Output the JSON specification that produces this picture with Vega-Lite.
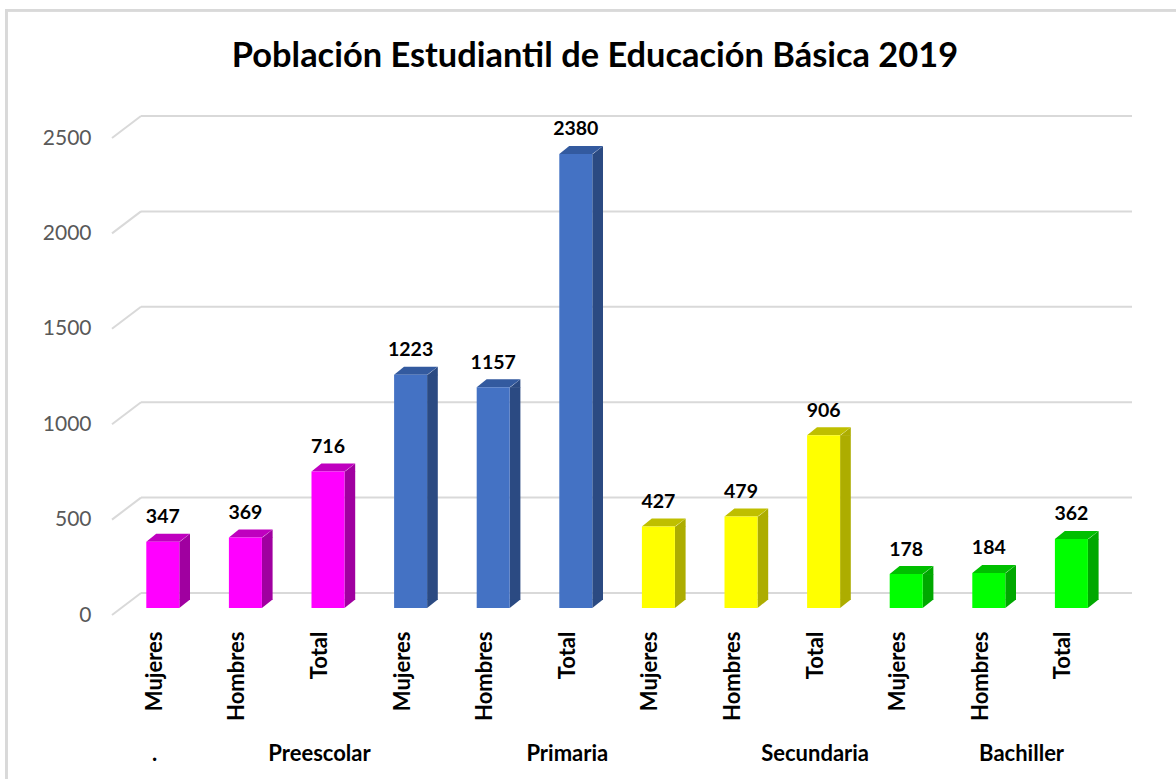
{
"$schema":"https://vega.github.io/schema/vega-lite/v6.json",
"width":1020,"height":477,
"autosize":"none",
"padding":{"left":112,"top":138,"right":44,"bottom":164},
"background":"white",
"config":{"view":{"stroke":null},"font":"Lato"},
"title":{"text":"Población Estudiantil de Educación Básica 2019","font":"Lato","fontSize":34.4,"fontWeight":"bold","color":"#000000","anchor":"middle","frame":"group","dx":-27,"offset":-92,"baseline":"alphabetic"},
"datasets":{
"barras":[
{"id":"Preescolar|Mujeres","nivel":"Preescolar","valor":347},
{"id":"Preescolar|Hombres","nivel":"Preescolar","valor":369},
{"id":"Preescolar|Total","nivel":"Preescolar","valor":716},
{"id":"Primaria|Mujeres","nivel":"Primaria","valor":1223},
{"id":"Primaria|Hombres","nivel":"Primaria","valor":1157},
{"id":"Primaria|Total","nivel":"Primaria","valor":2380},
{"id":"Secundaria|Mujeres","nivel":"Secundaria","valor":427},
{"id":"Secundaria|Hombres","nivel":"Secundaria","valor":479},
{"id":"Secundaria|Total","nivel":"Secundaria","valor":906},
{"id":"Bachiller|Mujeres","nivel":"Bachiller","valor":178},
{"id":"Bachiller|Hombres","nivel":"Bachiller","valor":184},
{"id":"Bachiller|Total","nivel":"Bachiller","valor":362}
],
"rejilla":[{"v":0},{"v":500},{"v":1000},{"v":1500},{"v":2000},{"v":2500}],
"grupos":[
{"id":"Preescolar|Total","grupo":"Preescolar"},
{"id":"Primaria|Total","grupo":"Primaria"},
{"id":"Secundaria|Total","grupo":"Secundaria"}
]
},
"data":{"name":"barras"},
"resolve":{"scale":{"color":"independent"}},
"layer":[
{"mark":{"type":"rule","color":"#d9d9d9","strokeWidth":2},"encoding":{"x":{"value":-105.7},"y":{"value":-127.7},"y2":{"value":641}}},
{"mark":{"type":"rule","color":"#d9d9d9","strokeWidth":2},"encoding":{"x":{"value":-106.7},"x2":{"value":1064},"y":{"value":-127.7}}},
{"data":{"name":"rejilla"},"mark":{"type":"rule","color":"#d9d9d9","strokeWidth":2,"yOffset":-22},
 "encoding":{"y":{"field":"v","type":"quantitative","scale":{"domain":[0,2500],"nice":false},
   "axis":{"title":null,"domain":false,"ticks":false,"grid":false,"values":[0,500,1000,1500,2000,2500],"format":"d","labelFont":"Lato","labelFontSize":21,"labelColor":"#595959","labelPadding":21,"labelOverlap":false}},
   "x":{"value":29},"x2":{"value":1020}}},
{"data":{"name":"rejilla"},"mark":{"type":"rule","color":"#d9d9d9","strokeWidth":2,"y2Offset":-22},
 "encoding":{"y":{"field":"v","type":"quantitative"},"y2":{"field":"v"},"x":{"value":0},"x2":{"value":29}}},
{"mark":{"type":"bar","width":10.7,"xOffset":21.85,"yOffset":-7,"y2Offset":-15},
 "encoding":{
  "x":{"field":"id","type":"nominal","sort":null,"scale":{"range":[9.5,1000.7],"paddingInner":0,"paddingOuter":0},
   "axis":{"title":null,"domain":false,"ticks":false,"labelAngle":270,"labelFont":"Lato","labelFontSize":22,"labelFontWeight":"bold","labelColor":"#000000","labelPadding":16,"labelOffset":-8,"labelExpr":"split(datum.label,'|')[1]"}},
  "y":{"field":"valor","type":"quantitative"},"y2":{"datum":0},
  "color":{"field":"nivel","type":"nominal","legend":null,"scale":{"domain":["Preescolar","Primaria","Secundaria","Bachiller"],"range":["#a000a0","#2b4a82","#adad00","#00a800"]}}}},
{"mark":{"type":"point","filled":true,"opacity":1,"size":4,"shape":"M16.5,0.5L27.2,-8L27.2,0.5Z","yOffset":-7},
 "encoding":{"x":{"field":"id","type":"nominal","sort":null},"y":{"field":"valor","type":"quantitative"},
  "color":{"field":"nivel","type":"nominal","legend":null,"scale":{"domain":["Preescolar","Primaria","Secundaria","Bachiller"],"range":["#a000a0","#2b4a82","#adad00","#00a800"]}}}},
{"mark":{"type":"point","filled":true,"opacity":1,"size":4,"shape":"M16.5,0L27.2,-8.5L16.5,-8.5Z","yOffset":-7},
 "encoding":{"x":{"field":"id","type":"nominal","sort":null},"y":{"datum":0},
  "color":{"field":"nivel","type":"nominal","legend":null,"scale":{"domain":["Preescolar","Primaria","Secundaria","Bachiller"],"range":["#a000a0","#2b4a82","#adad00","#00a800"]}}}},
{"mark":{"type":"point","filled":true,"opacity":1,"size":4,"shape":"M-16.5,0L-6.6,-8L27.2,-8L16.5,0Z","yOffset":-7},
 "encoding":{"x":{"field":"id","type":"nominal","sort":null},"y":{"field":"valor","type":"quantitative"},
  "color":{"field":"nivel","type":"nominal","legend":null,"scale":{"domain":["Preescolar","Primaria","Secundaria","Bachiller"],"range":["#bf00bf","#335a9f","#bfbf00","#00bf00"]}}}},
{"mark":{"type":"bar","width":33,"yOffset":-7,"y2Offset":-7},
 "encoding":{"x":{"field":"id","type":"nominal","sort":null},"y":{"field":"valor","type":"quantitative"},"y2":{"datum":0},
  "color":{"field":"nivel","type":"nominal","legend":null,"scale":{"domain":["Preescolar","Primaria","Secundaria","Bachiller"],"range":["#ff00ff","#4472c4","#ffff00","#00ff00"]}}}},
{"mark":{"type":"text","font":"Lato","fontSize":19.5,"fontWeight":"bold","color":"#000000","baseline":"middle","yOffset":-31.5},
 "encoding":{"x":{"field":"id","type":"nominal","sort":null},"y":{"field":"valor","type":"quantitative"},"text":{"field":"valor","type":"quantitative"}}},
{"data":{"name":"grupos"},"mark":{"type":"text","font":"Lato","fontSize":22,"fontWeight":"bold","color":"#000000","baseline":"middle","yOffset":139,"dx":-8.5},
 "encoding":{"x":{"field":"id","type":"nominal","sort":null},"y":{"datum":0},"text":{"field":"grupo"}}},
{"data":{"values":[{"id":"Bachiller|Hombres","grupo":"Bachiller"}]},"mark":{"type":"text","font":"Lato","fontSize":22,"fontWeight":"bold","color":"#000000","baseline":"middle","yOffset":139,"dx":-8.5},
 "encoding":{"x":{"field":"id","type":"nominal","sort":null,"bandPosition":1},"y":{"datum":0},"text":{"field":"grupo"}}},
{"data":{"values":[{"id":"Preescolar|Mujeres","grupo":"."}]},"mark":{"type":"text","font":"Lato","fontSize":22,"fontWeight":"bold","color":"#000000","baseline":"middle","yOffset":139},
 "encoding":{"x":{"field":"id","type":"nominal","sort":null,"bandPosition":0.4},"y":{"datum":0},"text":{"field":"grupo"}}}
]
}
